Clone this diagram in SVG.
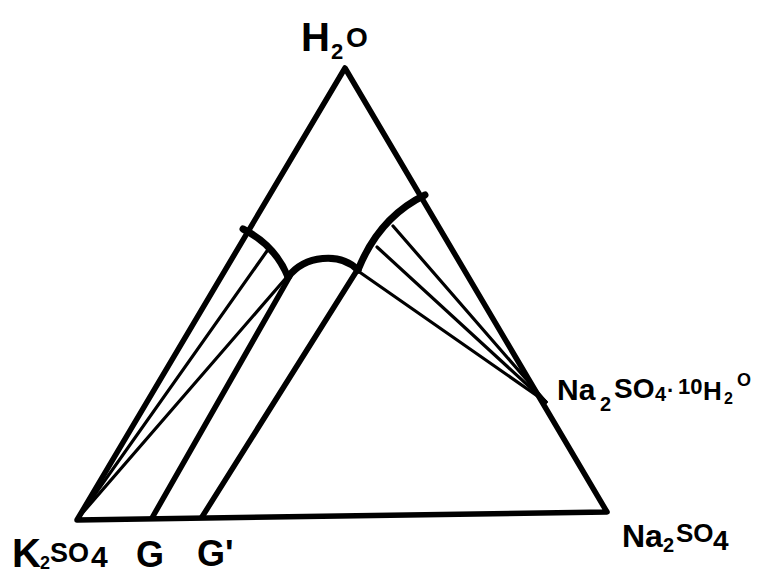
<svg xmlns="http://www.w3.org/2000/svg" width="762" height="577" viewBox="0 0 762 577">
<style>
.edge{fill:none;stroke:#000;stroke-width:5.5;stroke-linejoin:round;stroke-linecap:round}
.thick{fill:none;stroke:#000;stroke-width:7;stroke-linecap:round}
.tie{fill:none;stroke:#000;stroke-width:3.2;stroke-linecap:round}
.lbl{font-family:"Liberation Sans",Arial,sans-serif;font-weight:bold;fill:#000}
</style>
<rect width="762" height="577" fill="#fff"/>
<g id="triangle">
<path class="edge" d="M77,520 L345,68 L607,512 Z"/>
</g>
<g id="connectors">
<path class="thick" d="M243,229 Q275,245 288,277"/>
<path class="thick" d="M288,277 C305,255 340,252 358,270"/>
<path class="thick" d="M358,270 C370,240 390,212 425,195"/>
<line class="tie" x1="79" y1="517" x2="267" y2="251"/>
<line class="tie" x1="79" y1="517" x2="286" y2="278"/>
<line class="edge" x1="152" y1="518" x2="290" y2="276"/>
<line class="edge" x1="202" y1="517" x2="356" y2="272"/>
<line class="tie" x1="546" y1="402" x2="393" y2="226"/>
<line class="tie" x1="546" y1="402" x2="377" y2="247"/>
<line class="tie" x1="546" y1="402" x2="358" y2="271"/>
</g>
<g id="label-H2O">
<text class="lbl" x="301" y="51" font-size="40">H<tspan x="331" y="59" font-size="22">2</tspan><tspan x="346" y="47" font-size="28">O</tspan></text>
</g>
<g id="label-Na2SO4-10H2O">
<text class="lbl" x="557" y="400" font-size="30">Na<tspan x="600" y="411" font-size="20">2</tspan><tspan x="614" y="398" font-size="28">SO</tspan><tspan x="655" y="401" font-size="20">4</tspan><tspan x="667" y="398" font-size="22">·</tspan><tspan x="678" y="394" font-size="22">10</tspan><tspan x="703" y="400" font-size="26">H</tspan><tspan x="724" y="404" font-size="16">2</tspan><tspan x="737" y="386" font-size="18">O</tspan></text>
</g>
<g id="label-K2SO4">
<text class="lbl" x="12" y="567" font-size="40">K<tspan x="40" y="569" font-size="18">2</tspan><tspan x="50" y="562" font-size="27">SO</tspan><tspan x="91" y="567" font-size="30">4</tspan></text>
</g>
<g id="label-G">
<text class="lbl" x="136" y="567" font-size="36">G</text>
</g>
<g id="label-G-prime">
<text class="lbl" x="197" y="566" font-size="36">G'</text>
</g>
<g id="label-Na2SO4">
<text class="lbl" x="622" y="547" font-size="32">Na<tspan x="663" y="552" font-size="20">2</tspan><tspan x="676" y="542" font-size="26">SO</tspan><tspan x="713" y="550" font-size="28">4</tspan></text>
</g>
</svg>
